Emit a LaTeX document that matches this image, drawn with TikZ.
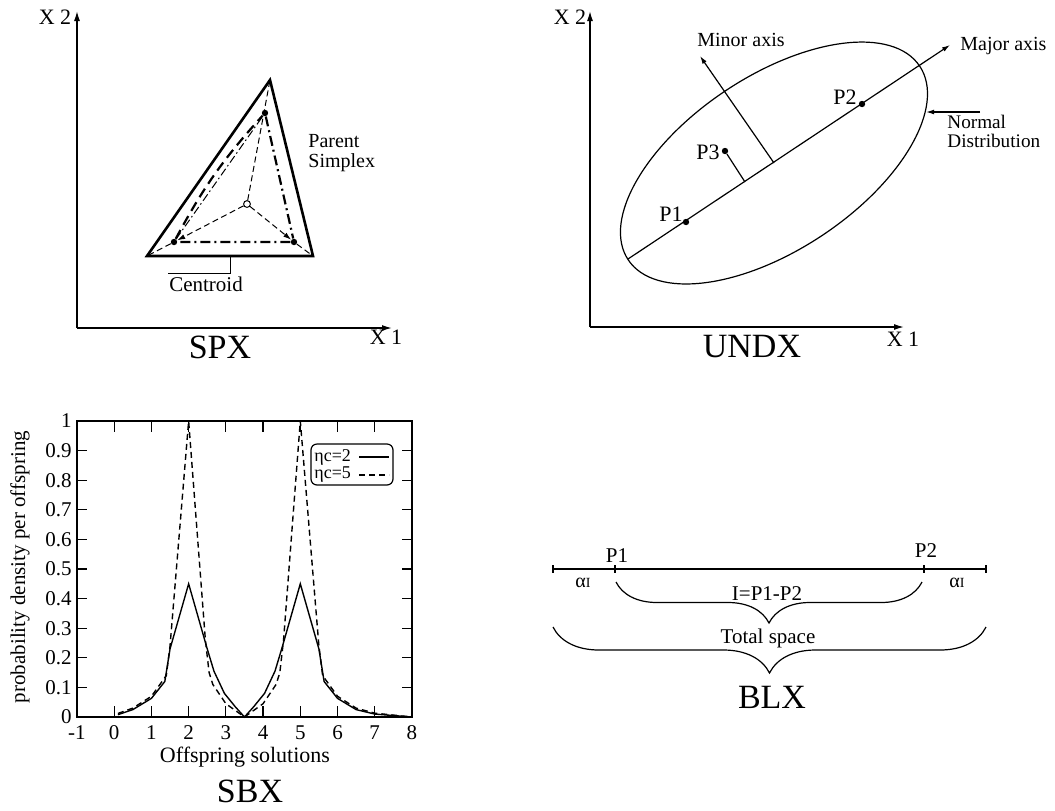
\documentclass[tikz,border=0pt]{standalone}
\usepackage{fontspec}
\setmainfont{Liberation Serif}
\usetikzlibrary{arrows.meta,positioning,calc,decorations.pathreplacing}

\newcommand{\xyaxes}[4]{% {prefix}{origin}{x end}{y end}
  \coordinate (#1o) at #2;
  \coordinate (#1x) at #3;
  \coordinate (#1y) at #4;
  \draw[axis] (#1o) -- (#1x);
  \draw[axis] (#1o) -- (#1y);
}

\begin{document}
\begin{tikzpicture}[x=0.5pt,y=-0.5pt,
    axis/.style={line width=0.7pt,-{Latex[length=5pt,width=3pt]}},
    ptr/.style={line width=0.6pt,-{Latex[length=4pt,width=2.4pt]}},
    tit/.style={font=\fontsize{17}{20}\selectfont,inner sep=0pt},
    lab/.style={font=\fontsize{10}{11}\selectfont,inner sep=0pt},
    axl/.style={font=\fontsize{11}{12}\selectfont,inner sep=0pt},
    two/.style={font=\fontsize{10}{10}\selectfont,inner sep=0pt,align=left},
    plab/.style={font=\fontsize{11}{12}\selectfont,inner sep=0pt},
    pdot/.style={circle,fill,inner sep=0pt,minimum size=3.2pt},
    cdot/.style={circle,draw,fill=white,line width=0.5pt,inner sep=0pt,minimum size=3.4pt},
    simplex/.style={line width=1.3pt,line join=miter},
    spoke/.style={line width=0.5pt,dash pattern=on 3pt off 1.8pt},
    dashdot/.style={line width=1.1pt,dash pattern=on 5pt off 2pt on 1pt off 2pt},
    thindashdot/.style={line width=0.5pt,dash pattern=on 4pt off 1.5pt on 0.8pt off 1.5pt},
    curve/.style={line width=0.7pt,line join=miter},
    tick/.style={line width=0.6pt},
    tlab/.style={font=\fontsize{10.5}{11}\selectfont,inner sep=0pt}]
  \useasboundingbox (0,0) rectangle (1055,810);

  % SPX
  \xyaxes{a}{(77,328)}{(392,328)}{(77,11)}
  \node[axl] (ax2) at (55,17) {X 2};
  \node[axl] (ax1) at (386,337) {X 1};
  \node[tit] (spx) at (220,347) {SPX};
  \coordinate (sT) at (270,80);
  \coordinate (sL) at (147,256);
  \coordinate (sR) at (313,256);
  \draw[simplex] (sT) -- (sL) -- (sR) -- cycle;
  \node[pdot] (pt) at (265,113) {};
  \node[pdot] (pl) at (174,242) {};
  \node[pdot] (pr) at (294,242) {};
  \node[cdot] (cen) at (247,204) {};
  \draw[spoke] (cen) -- (sT);
  \draw[spoke,-{Latex[length=4pt,width=2.5pt]}] (cen) -- (pl);
  \draw[spoke,-{Latex[length=4pt,width=2.5pt]}] (cen) -- (pr);
  \draw[spoke] (pl) -- (sL);
  \draw[spoke] (pr) -- (sR);
  \draw[line width=1.1pt,dash pattern=on 5pt off 3pt] (pl) to[bend left=7] (pt);
  \draw[thindashdot] (pl) -- (pt);
  \draw[dashdot] (pt) -- (pr) -- (pl);
  \coordinate (cb) at (230,256);
  \coordinate (cc) at (230,273);
  \coordinate (cd) at (168,273);
  \draw[line width=0.5pt] (cb) -- (cc) -- (cd);
  \node[lab,font=\fontsize{10.5}{11}\selectfont] (centroid) at (206,284) {Centroid};
  \node[two,anchor=west] (parent) at (308,153) {Parent\\Simplex};

  % UNDX
  \xyaxes{b}{(590,327)}{(904,327)}{(590,11)}
  \node[axl] (bx2) at (570,17) {X 2};
  \node[axl] (bx1) at (903,339) {X 1};
  \node[tit] (undx) at (752,347) {UNDX};
  \coordinate (ec) at (774,163);
  \draw[line width=0.6pt,rotate around={33.6:(ec)}] (ec) ellipse [x radius=87.5pt,y radius=43.5pt];
  \coordinate (maj0) at (628,259);
  \coordinate (maj1) at (950,45);
  \draw[ptr] (maj0) -- (maj1);
  \coordinate (min1) at (700,56);
  \draw[ptr] (ec) -- (min1);
  \node[pdot] (q1) at (686,222) {};
  \node[pdot] (q2) at (862,104) {};
  \node[pdot] (q3) at (725,151) {};
  \coordinate (q3f) at (745,182);
  \draw[line width=0.6pt] (q3) -- (q3f);
  \node[plab] (lq1) at (671,214) {P1};
  \node[plab] (lq2) at (845,97) {P2};
  \node[plab] (lq3) at (708,152) {P3};
  \node[lab,anchor=south] (minor) at (741,47) {Minor axis};
  \node[lab,anchor=west] (major) at (960,46) {Major axis};
  \coordinate (nd0) at (980,112);
  \coordinate (nd1) at (926,112);
  \draw[ptr] (nd0) -- (nd1);
  \node[two,font=\fontsize{9.6}{9.6}\selectfont,anchor=north west] (normal) at (947,115) {Normal\\Distribution};

  % SBX
  \begin{scope}[shift={(114.2,717)},x=18.61pt,y=148pt]
    \draw[line width=0.8pt] (-1,0) rectangle (8,1);
    \foreach \v in {1,...,9} {
      \draw[tick] (-1,\v/10) -- ++(0.28,0);
      \draw[tick] (8,\v/10) -- ++(-0.28,0);
    }
    \foreach \u in {0,...,7} {
      \draw[tick] (\u,0) -- ++(0,0.037);
      \draw[tick] (\u,1) -- ++(0,-0.037);
    }
    \foreach \v/\t in {0/0,1/0.1,2/0.2,3/0.3,4/0.4,5/0.5,6/0.6,7/0.7,8/0.8,9/0.9,10/1}
      \node[tlab,anchor=east] (yl\v) at ([xshift=-2.5pt]-1,\v/10) {\t};
    \foreach \u in {-1,...,8}
      \node[tlab] (xl\u) at (\u,-0.052) {\u};
    \draw[curve] (0.1,0.008) -- (0.5,0.025) -- (1.0,0.063) -- (1.36,0.12) -- (1.5,0.23)
      -- (2.0,0.45) -- (2.5,0.23) -- (2.68,0.155) -- (2.96,0.08) -- (3.25,0.035) -- (3.5,0)
      -- (3.75,0.035) -- (4.04,0.08) -- (4.32,0.155) -- (4.5,0.23) -- (5.0,0.45)
      -- (5.5,0.23) -- (5.64,0.12) -- (6.0,0.063) -- (6.5,0.025) -- (7.0,0.01) -- (8,0);
    \draw[curve,dash pattern=on 3pt off 2pt] (0.1,0.012) -- (0.5,0.03) -- (1.0,0.07) -- (1.4,0.14)
      -- (1.5,0.24) -- (2.0,1.0) -- (2.45,0.26) -- (2.55,0.15) -- (2.65,0.11) -- (3.0,0.045)
      -- (3.5,0) -- (4.0,0.045) -- (4.35,0.11) -- (4.45,0.15) -- (4.55,0.26) -- (5.0,1.0)
      -- (5.5,0.24) -- (5.6,0.14) -- (6.0,0.07) -- (6.5,0.03) -- (7.0,0.013) -- (8,0);
  \end{scope}
  \node[lab,font=\fontsize{10.5}{12}\selectfont,rotate=90] (ylab) at (20,567) {probability density per offspring};
  \node[lab,font=\fontsize{11}{12}\selectfont] (xlab) at (245,757) {Offspring solutions};
  \node[tit] (sbx) at (250,791) {SBX};
  \node[draw,rounded corners=3pt,line width=0.6pt,minimum width=41pt,minimum height=20.5pt,inner sep=0pt] (leg) at (352,464.5) {};
  \node[tlab,font=\fontsize{9}{9}\selectfont,anchor=west] (leg1) at (314,457) {ηc=2};
  \node[tlab,font=\fontsize{9}{9}\selectfont,anchor=west] (leg2) at (314,475) {ηc=5};
  \coordinate (la0) at (359,457);
  \coordinate (la1) at (389,457);
  \coordinate (lb0) at (359,475);
  \coordinate (lb1) at (389,475);
  \draw[line width=0.6pt] (la0) -- (la1);
  \draw[line width=0.6pt,dash pattern=on 3pt off 2pt] (lb0) -- (lb1);

  % BLX
  \coordinate (b0) at (553,569);
  \coordinate (b1) at (615,569);
  \coordinate (b2) at (924,569);
  \coordinate (b3) at (986,569);
  \draw[line width=0.6pt] (b0) -- (b3);
  \foreach \p in {b0,b1,b2,b3}
    \draw[line width=0.6pt] ([yshift=2pt]\p) -- ([yshift=-2pt]\p);
  \node[lab,font=\fontsize{10.5}{11}\selectfont] (bp1) at (617,556) {P1};
  \node[lab,font=\fontsize{10.5}{11}\selectfont] (bp2) at (926,551) {P2};
  \node[lab] (al1) at (583,583) {α{\fontsize{7}{8}\selectfont I}};
  \node[lab] (al2) at (957,583) {α{\fontsize{7}{8}\selectfont I}};
  \coordinate (i0) at (616,582);
  \coordinate (i1) at (922,582);
  \draw[line width=0.6pt,decorate,decoration={brace,mirror,amplitude=20.5pt}] (i0) -- (i1);
  \node[lab,font=\fontsize{10.5}{11}\selectfont] (ilab) at (767,594) {I=P1-P2};
  \coordinate (t0) at (553,627);
  \coordinate (t1) at (986,627);
  \draw[line width=0.6pt,decorate,decoration={brace,mirror,amplitude=23pt}] (t0) -- (t1);
  \node[lab,font=\fontsize{10.5}{11}\selectfont] (tlab) at (768,638) {Total space};
  \node[tit] (blx) at (772,697) {BLX};
\end{tikzpicture}
\end{document}
